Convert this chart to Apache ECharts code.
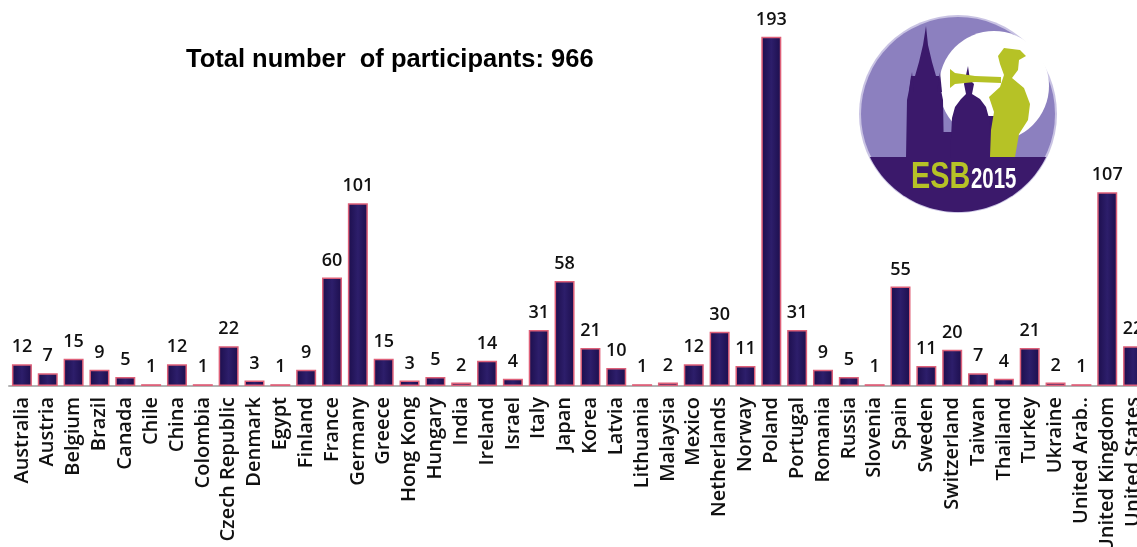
<!DOCTYPE html>
<html>
<head>
<meta charset="utf-8">
<script src="https://cdn.jsdelivr.net/npm/echarts@6/dist/echarts.min.js"></script>
<style>
html,body{margin:0;padding:0;background:#fff;overflow:hidden;}
#c{width:1137px;height:547px;}
</style>
</head>
<body>
<div id="c"></div>
<script>
var countries = ["Australia","Austria","Belgium","Brazil","Canada","Chile","China","Colombia","Czech Republic","Denmark","Egypt","Finland","France","Germany","Greece","Hong Kong","Hungary","India","Ireland","Israel","Italy","Japan","Korea","Latvia","Lithuania","Malaysia","Mexico","Netherlands","Norway","Poland","Portugal","Romania","Russia","Slovenia","Spain","Sweden","Switzerland","Taiwan","Thailand","Turkey","Ukraine","United Arab..","United Kingdom","United States"];
var participants = [12,7,15,9,5,1,12,1,22,3,1,9,60,101,15,3,5,2,14,4,31,58,21,10,1,2,12,30,11,193,31,9,5,1,55,11,20,7,4,21,2,1,107,22];
var titleText = "Total number  of participants: 966";

var chart = echarts.init(document.getElementById('c'), null, {renderer:'canvas'});

// logo helpers (decoration)
var cx = 958, cy = 114, R = 98, bandY = 157;
function segmentPoints(){
  var pts = [];
  var a0 = Math.asin((bandY - cy) / R);
  var steps = 60;
  for (var i = 0; i <= steps; i++) {
    var a = a0 + (Math.PI - 2 * a0) * i / steps;
    pts.push([cx + R * Math.cos(a), cy + R * Math.sin(a)]);
  }
  return pts;
}
var purpleDark = '#3b196b', purpleLight = '#8c80bf', lime = '#b6c226';

var option = {
  backgroundColor: '#ffffff',
  animation: false,
  grid: {left: 9, width: 1137, top: 24, bottom: 161, containLabel: false, outerBoundsMode: 'none'},
  xAxis: {
    type: 'category',
    data: countries,
    axisTick: {show: false},
    axisLine: {show: true, lineStyle: {color: '#b3b3b3', width: 2}},
    axisLabel: {
      interval: 0, rotate: 90, margin: 11,
      fontFamily: 'Open Sans', fontSize: 20, fontWeight: 600, color: '#111'
    },
    splitLine: {show: false}
  },
  yAxis: {type: 'value', min: 0, max: 200, show: false, splitLine: {show: false}},
  series: [{
    type: 'bar',
    data: participants,
    barWidth: 20,
    itemStyle: {
      color: new echarts.graphic.LinearGradient(0, 0, 1, 0, [
        {offset: 0, color: '#1c0e4c'},
        {offset: 0.5, color: '#2d1e6b'},
        {offset: 1, color: '#1c0e4c'}
      ]),
      borderColor: '#de6079',
      borderWidth: 1.5
    },
    label: {
      show: true, position: 'top', distance: 8,
      fontFamily: 'Open Sans', fontSize: 18, fontWeight: 600, color: '#111'
    }
  }],
  graphic: [
    {type: 'text', x: 186, y: 60, scaleX: 1.02,
     style: {text: titleText, fontFamily: 'Liberation Sans, Arial', fontWeight: 'bold', fontSize: 25, fill: '#000', verticalAlign: 'middle'}},
    // logo
    {type: 'circle', shape: {cx: cx, cy: cy, r: R + 1}, style: {fill: '#c9c3e3'}, z: 10},
    {type: 'circle', shape: {cx: cx, cy: cy, r: R - 1}, style: {fill: purpleLight}, z: 11},
    {type: 'circle', shape: {cx: 994, cy: 86, r: 55}, style: {fill: '#ffffff'}, z: 12},
    {type: 'polygon', shape: {points: segmentPoints()}, style: {fill: purpleDark}, z: 13},
    // tall tower
    {type: 'polygon', z: 14, style: {fill: purpleDark}, shape: {points: [
      [926,26],[928,45],[932,62],[936,76],[939,76],[941,90],[943,100],[944,158],[906,158],[907,100],[909,90],[911,76],[915,76],[919,62],[923,45]
    ]}},
    {type: 'polygon', z: 14, style: {fill: purpleDark}, shape: {points: [[912,72],[914,92],[909,92]]}},
    {type: 'polygon', z: 14, style: {fill: purpleDark}, shape: {points: [[940,72],[942,92],[937,92]]}},
    // lower roofs
    {type: 'rect', z: 14, shape: {x: 940, y: 132, width: 14, height: 26}, style: {fill: purpleDark}},
    {type: 'rect', z: 14, shape: {x: 988, y: 116, width: 8, height: 42}, style: {fill: purpleDark}},
    // town hall tower
    {type: 'polygon', z: 14, style: {fill: purpleDark}, shape: {points: [
      [968,66],[970,80],[974,84],[972,94],[980,99],[986,107],[989,118],[991,158],[950,158],[952,118],[955,107],[961,99],[966,94],[964,84]
    ]}},
    // trumpeter
    {type: 'polygon', z: 15, style: {fill: lime}, shape: {points: [
      [998,56],[1004,48],[1020,50],[1026,56],[1019,60],[1018,70],[1012,78],[1024,88],[1030,104],[1028,120],[1019,134],[1015,157],[990,157],[991,130],[994,112],[989,97],[1000,87],[1004,75],[1000,64]
    ]}},
    {type: 'polygon', z: 15, style: {fill: lime}, shape: {points: [
      [950,69],[955,73],[975,76],[1001,77],[1001,83],[975,82],[955,84],[950,88]
    ]}},
    {type: 'text', z: 16, left: 911, top: 160, scaleX: 0.8,
     style: {text: 'ESB', fontFamily: 'Liberation Sans, Arial', fontWeight: 'bold', fontSize: 36, fill: lime}},
    {type: 'text', z: 16, left: 971, top: 165, scaleX: 0.68,
     style: {text: '2015', fontFamily: 'Liberation Sans, Arial', fontWeight: 'bold', fontSize: 30, fill: '#ffffff'}}
  ]
};
chart.setOption(option);
</script>
</body>
</html>
